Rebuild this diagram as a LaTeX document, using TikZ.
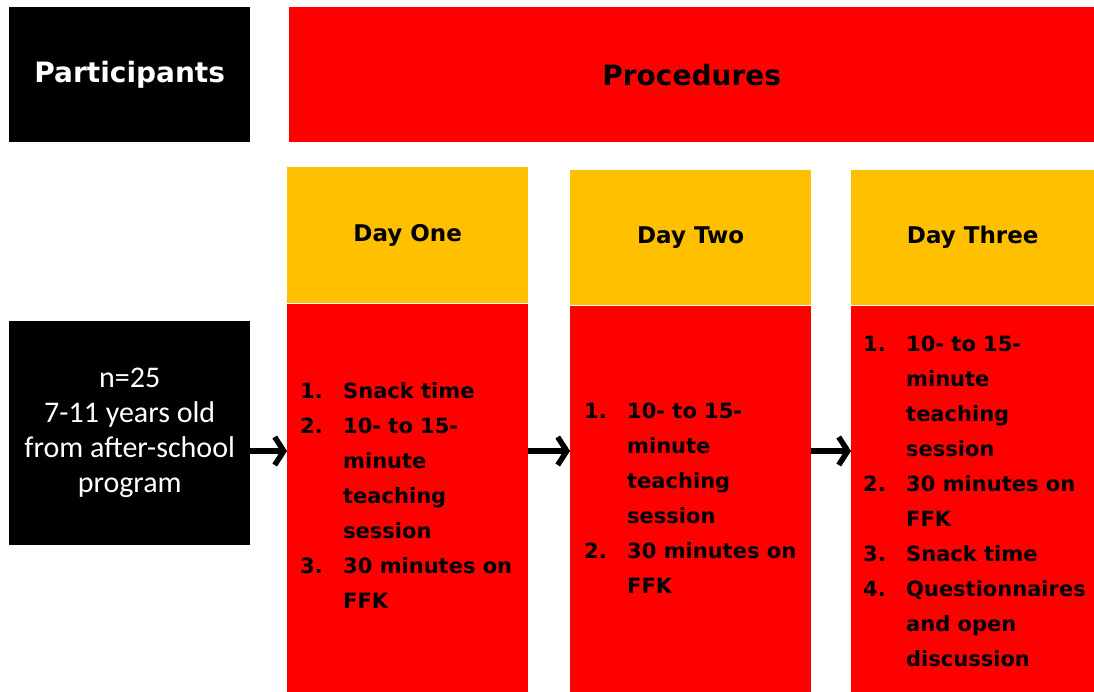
\documentclass[tikz,border=0pt]{standalone}
\usepackage{fontspec}
\setmainfont{DejaVu Sans}
\newfontfamily\infofont{Carlito}
\usetikzlibrary{positioning,arrows.meta}
\definecolor{procred}{RGB}{255,0,0}
\definecolor{dayyellow}{RGB}{255,192,0}
\tikzset{standard edge/.style={line width=5.5pt,-{Straight Barb[length=9pt,width=28pt]}}}
\newcommand{\steplist}[1]{{\fontsize{21}{35}\selectfont\bfseries
 \begin{tabular}[t]{@{}p{43pt}@{}l@{}}#1\end{tabular}}}

\begin{document}
\begin{tikzpicture}[x=1pt,y=-1pt,
 blackbox/.style={fill=black,text=white,inner sep=0},
 redbox/.style={fill=procred,inner sep=0},
 daybox/.style={fill=dayyellow,inner sep=0,minimum height=135pt,font=\fontsize{23}{28}\selectfont\bfseries},
 title/.style={font=\fontsize{28}{34}\selectfont\bfseries}]
\useasboundingbox (0,0) rectangle (1094,691);

\node[blackbox,title,anchor=north west,minimum width=241pt,minimum height=135pt] (PH) at (9,7) {Participants};
\node[redbox,title,anchor=north west,minimum width=805pt,minimum height=135pt] (PR) at (289,7) {Procedures};
\node[blackbox,anchor=north west,minimum width=241pt,minimum height=224pt,align=center,
 font=\infofont\fontsize{30}{35}\selectfont] (PI) at (9,321) {n=25\\7-11 years old\\from after-school\\program};

\node[daybox,anchor=north west,minimum width=241pt,minimum height=136pt] (D1) at (287,167) {Day One};
\node[daybox,anchor=north west,minimum width=241pt] (D2) at (570,170) {Day Two};
\node[daybox,anchor=north west,minimum width=243pt] (D3) at (851,170) {Day Three};

\node[redbox,below=0pt of D1,minimum width=241pt,minimum height=388pt] (D1B) {};
\node[redbox,below=0pt of D2,minimum width=241pt,minimum height=386pt] (D2B) {};
\node[redbox,below=0pt of D3,minimum width=243pt,minimum height=386pt] (D3B) {};

\node[anchor=base west,inner sep=0] (L1) at ([xshift=13pt,yshift=-95pt]D1B.north west) {\steplist{
1. & Snack time\\
2. & 10- to 15-\\ & minute\\ & teaching\\ & session\\
3. & 30 minutes on\\ & FFK}};
\node[anchor=base west,inner sep=0] (L2) at ([xshift=14pt,yshift=-113pt]D2B.north west) {\steplist{
1. & 10- to 15-\\ & minute\\ & teaching\\ & session\\
2. & 30 minutes on\\ & FFK}};
\node[anchor=base west,inner sep=0] (L3) at ([xshift=12pt,yshift=-46pt]D3B.north west) {\steplist{
1. & 10- to 15-\\ & minute\\ & teaching\\ & session\\
2. & 30 minutes on\\ & FFK\\
3. & Snack time\\
4. & Questionnaires\\ & and open\\ & discussion}};

\draw (PI.east |- 0,451) edge[standard edge] (D1B.west |- 0,451)
(D1B.east |- 0,451) edge[standard edge] (D2B.west |- 0,451)
(D2B.east |- 0,451) edge[standard edge] (D3B.west |- 0,451)
;
\end{tikzpicture}
\end{document}
